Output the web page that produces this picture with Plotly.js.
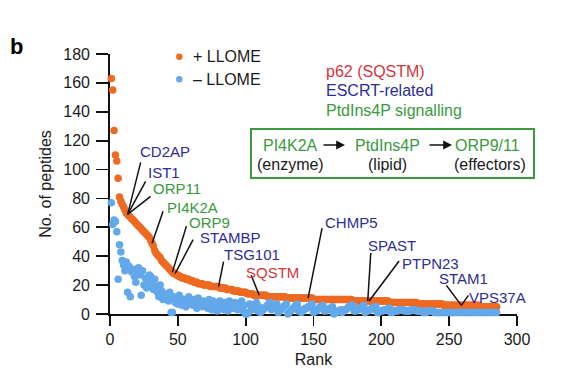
<!DOCTYPE html>
<html>
<head>
<meta charset="utf-8">
<script src="https://cdn.plot.ly/plotly-3.0.1.min.js"></script>
<style>
  html, body { margin: 0; padding: 0; background: #fff; }
  #chart { width: 575px; height: 386px; }
</style>
</head>
<body>
<div id="chart"></div>
<script>
// ---------- data ----------
const plusLLOME = [
  163,155,127,110,106,94,81,78,76,74,
  72,70,69,68,67,66,65,64,63,62,
  61,60,59,58,57,56,55,54,53,51,
  49,47,44,42,41,40,39,37,36,35,
  34,33,32,31,30,29,28,28,27,27,
  26,26,25,25,25,24,24,24,23,23,
  23,22,22,22,21,21,21,21,20,20,
  20,20,20,19,19,19,19,19,19,19,
  18,18,18,18,18,17,17,17,17,17,
  16,16,16,16,16,15,15,15,15,15,
  14,14,14,14,14,13,13,13,13,13,
  13,13,13,13,13,12,12,12,12,12,
  12,12,12,12,12,12,12,12,12,11,
  11,11,11,11,11,11,11,11,11,11,
  11,11,11,11,11,11,11,11,11,10,
  10,10,10,10,10,10,10,10,10,10,
  10,10,10,10,10,10,10,10,10,10,
  10,10,10,10,10,10,10,10,9,9,
  9,9,9,9,9,9,9,9,9,9,
  9,9,9,9,9,9,9,9,9,9,
  9,9,9,9,9,8,8,8,8,8,
  8,8,8,8,8,8,8,8,8,8,
  8,8,8,8,8,8,7,7,7,7,
  7,7,7,7,7,7,7,7,7,7,
  7,7,7,7,7,6,6,6,6,6,
  6,6,6,6,6,6,6,6,6,6,
  6,6,6,6,6,6,6,6,6,6,
  6,6,5,5,5,5,5,5,5,5,
  5,5,5,5,5
];
const minusLLOME = [
  77,62,65,64,57,24,48,43,37,34,
  30,36,15,33,12,29,31,26,22,28,
  32,27,13,30,20,25,18,23,27,26,
  21,17,24,19,15,12,20,16,10,14,
  11,13,9,15,1,1,12,8,10,7,
  13,11,6,8,10,5,9,12,7,8,
  6,10,9,4,11,8,7,5,9,6,
  8,4,10,7,3,9,6,8,2,7,
  9,5,7,3,8,6,2,9,5,7,
  4,8,6,3,7,5,9,2,6,0,
  0,1,7,5,3,6,4,8,2,5,
  1,2,3,4,5,6,7,8,3,4,
  5,6,7,1,2,3,4,5,6,7,
  0,1,2,3,4,5,6,7,2,3,
  1,2,3,4,4,5,5,6,7,1,
  2,2,3,4,5,5,6,2,2,3,
  3,4,4,5,0,1,1,2,2,3,
  1,2,3,3,4,5,5,6,6,2,
  2,3,3,4,4,5,6,1,2,2,
  3,3,4,4,5,5,1,1,2,2,
  2,3,3,3,4,4,1,1,2,2,
  2,2,3,3,3,3,2,2,2,2,
  2,3,3,3,3,2,2,2,2,2,
  1,1,1,2,2,2,2,2,1,1,
  1,1,1,1,1,1,1,1,1,1,
  1,1,1,1,1,1,1,1,1,1,
  1,1,1,1,1,1,1,1,1,1,
  1,1,1,1,1,1,1,1,1,1,
  1,1,1,1,1
];
const ranks = plusLLOME.map((_, i) => i + 1);

const xTicks = [0, 50, 100, 150, 200, 250, 300];
const yTicks = [0, 20, 40, 60, 80, 100, 120, 140, 160, 180];

// labelled proteins: name, rank on the +LLOME curve, group
const labelNames  = ['CD2AP','IST1','ORP11','PI4K2A','ORP9','STAMBP','TSG101','SQSTM','CHMP5','SPAST','PTPN23','STAM1','VPS37A'];
const labelRanks  = [13, 13, 13, 31, 46, 48, 80, 110, 146, 190, 191, 259, 259];
const labelGroups = ['escrt','escrt','ptd','ptd','ptd','escrt','escrt','p62','escrt','escrt','escrt','escrt','escrt'];

// ---------- styling ----------
const ORANGE = '#EE6A20';
const BLUE = '#62A8EA';
const C_ESCRT = '#2C2C98';
const C_PTD = '#3A9A3E';
const C_P62 = '#D2353D';
const groupColor = {escrt: C_ESCRT, ptd: C_PTD, p62: C_P62};
const FONT = 'Liberation Sans, Arial, Helvetica, sans-serif';

// pixel offsets for leader line tails and text centres (relative to the point)
const lineOff = [[13,52],[18,33],[23,18],[11,32],[14,46],[18,34],[5,25],[-8,20],[14,70],[3,48],[30,40],[-15,20],[7,10]];
const textOff = [[37,63],[36,42],[49,26],[40,36],[37,50],[55,36],[33,32],[13,23],[43,76],[24,56],[61,38],[2,27],[36,8]];

const traces = [
  {
    x: ranks, y: plusLLOME, type: 'scatter', mode: 'markers', name: '+ LLOME',
    marker: {color: ORANGE, size: 7.5, line: {width: 0}}, cliponaxis: false, hoverinfo: 'skip'
  },
  {
    x: ranks, y: minusLLOME, type: 'scatter', mode: 'markers', name: '– LLOME',
    marker: {color: BLUE, size: 7.5, line: {width: 0}}, cliponaxis: false, hoverinfo: 'skip'
  }
];

const shapes = [];
const annotations = [];

labelNames.forEach((name, i) => {
  const r = labelRanks[i];
  const v = plusLLOME[r - 1];
  shapes.push({
    type: 'line', xref: 'x', yref: 'y',
    xsizemode: 'pixel', ysizemode: 'pixel', xanchor: r, yanchor: v,
    x0: 0, y0: 0, x1: lineOff[i][0], y1: lineOff[i][1],
    line: {color: '#111', width: 1.5}
  });
  annotations.push({
    x: r, y: v, xref: 'x', yref: 'y', text: name, showarrow: false,
    xshift: textOff[i][0], yshift: textOff[i][1], borderpad: 0,
    xanchor: 'center', yanchor: 'middle',
    font: {family: FONT, size: 15, color: groupColor[labelGroups[i]]}
  });
});

// custom legend (top left)
const legendItems = [['+ LLOME', ORANGE, 0.9896], ['– LLOME', BLUE, 0.9027]];
legendItems.forEach(([txt, col, py]) => {
  shapes.push({
    type: 'circle', xref: 'paper', yref: 'paper',
    xsizemode: 'pixel', ysizemode: 'pixel', xanchor: 0.1703, yanchor: py,
    x0: -3.2, x1: 3.2, y0: -3.2, y1: 3.2,
    fillcolor: col, line: {width: 0}
  });
  annotations.push({
    x: 0.2007, y: py, xref: 'paper', yref: 'paper', text: txt, showarrow: false,
    xanchor: 'left', yanchor: 'middle', borderpad: 0,
    font: {family: FONT, size: 16, color: '#1a1a1a'}
  });
});

// colour key (top right)
[['p62 (SQSTM)', C_P62, 0.9319], ['ESCRT-related', C_ESCRT, 0.8577], ['PtdIns4P signalling', C_PTD, 0.7846]]
  .forEach(([txt, col, py]) => {
    annotations.push({
      x: 0.5283, y: py, xref: 'paper', yref: 'paper', text: txt, showarrow: false,
      xanchor: 'left', yanchor: 'middle', borderpad: 0,
      font: {family: FONT, size: 16, color: col}
    });
  });

// pathway box
shapes.push({
  type: 'rect', xref: 'paper', yref: 'paper', x0: 0.3464, x1: 1.0418, y0: 0.5231, y1: 0.7115,
  line: {color: C_PTD, width: 2}, fillcolor: 'rgba(0,0,0,0)'
});
[['PI4K2A', 0.4423, 0.65, C_PTD], ['(enzyme)', 0.4447, 0.5731, '#1a1a1a'],
 ['PtdIns4P', 0.6830, 0.65, C_PTD], ['(lipid)', 0.6830, 0.5731, '#1a1a1a'],
 ['ORP9/11', 0.9287, 0.65, C_PTD], ['(effectors)', 0.9337, 0.5731, '#1a1a1a']]
  .forEach(([txt, px, py, col]) => {
    annotations.push({
      x: px, y: py, xref: 'paper', yref: 'paper', text: txt, showarrow: false,
      xanchor: 'center', yanchor: 'middle', borderpad: 0,
      font: {family: FONT, size: 16, color: col}
    });
  });
[[0.5774, -23], [0.8403, -24]].forEach(([px, ax]) => {
  annotations.push({
    x: px, y: 0.65, xref: 'paper', yref: 'paper', text: '', showarrow: true,
    ax: ax, ay: 0, arrowhead: 2, arrowsize: 1.1, arrowwidth: 1.6, arrowcolor: '#111'
  });
});

// panel letter
annotations.push({
  x: (16 - 110) / 407, y: (314 - 46) / 260, xref: 'paper', yref: 'paper',
  xanchor: 'center', yanchor: 'middle',
  text: '<b>b</b>', showarrow: false,
  font: {family: FONT, size: 22, color: '#000'}
});

const layout = {
  width: 575, height: 386,
  margin: {l: 110, r: 58, t: 54, b: 72},
  paper_bgcolor: '#fff', plot_bgcolor: '#fff',
  showlegend: false,
  font: {family: FONT, size: 16, color: '#1a1a1a'},
  xaxis: {
    range: [0, 300], tickvals: xTicks, ticktext: xTicks.map(String),
    showgrid: false, zeroline: false, showline: true, linecolor: '#111', linewidth: 1.8,
    ticks: 'outside', ticklen: 10, tickwidth: 1.8, tickcolor: '#111',
    tickfont: {family: FONT, size: 16, color: '#1a1a1a'},
    layer: 'below traces', automargin: false,
    title: {text: 'Rank', font: {family: FONT, size: 16, color: '#1a1a1a'}, standoff: 7}
  },
  yaxis: {
    range: [0, 180], tickvals: yTicks, ticktext: yTicks.map(String),
    showgrid: false, zeroline: false, showline: true, linecolor: '#111', linewidth: 1.8,
    ticks: 'outside', ticklen: 12, tickwidth: 1.8, tickcolor: '#111',
    tickfont: {family: FONT, size: 16, color: '#1a1a1a'}, ticklabelstandoff: 3,
    layer: 'below traces', automargin: false,
    title: {text: 'No. of peptides', font: {family: FONT, size: 16, color: '#1a1a1a'}, standoff: 8}
  },
  shapes: shapes,
  annotations: annotations
};

Plotly.newPlot('chart', traces, layout, {displayModeBar: false, staticPlot: true});
</script>
</body>
</html>
